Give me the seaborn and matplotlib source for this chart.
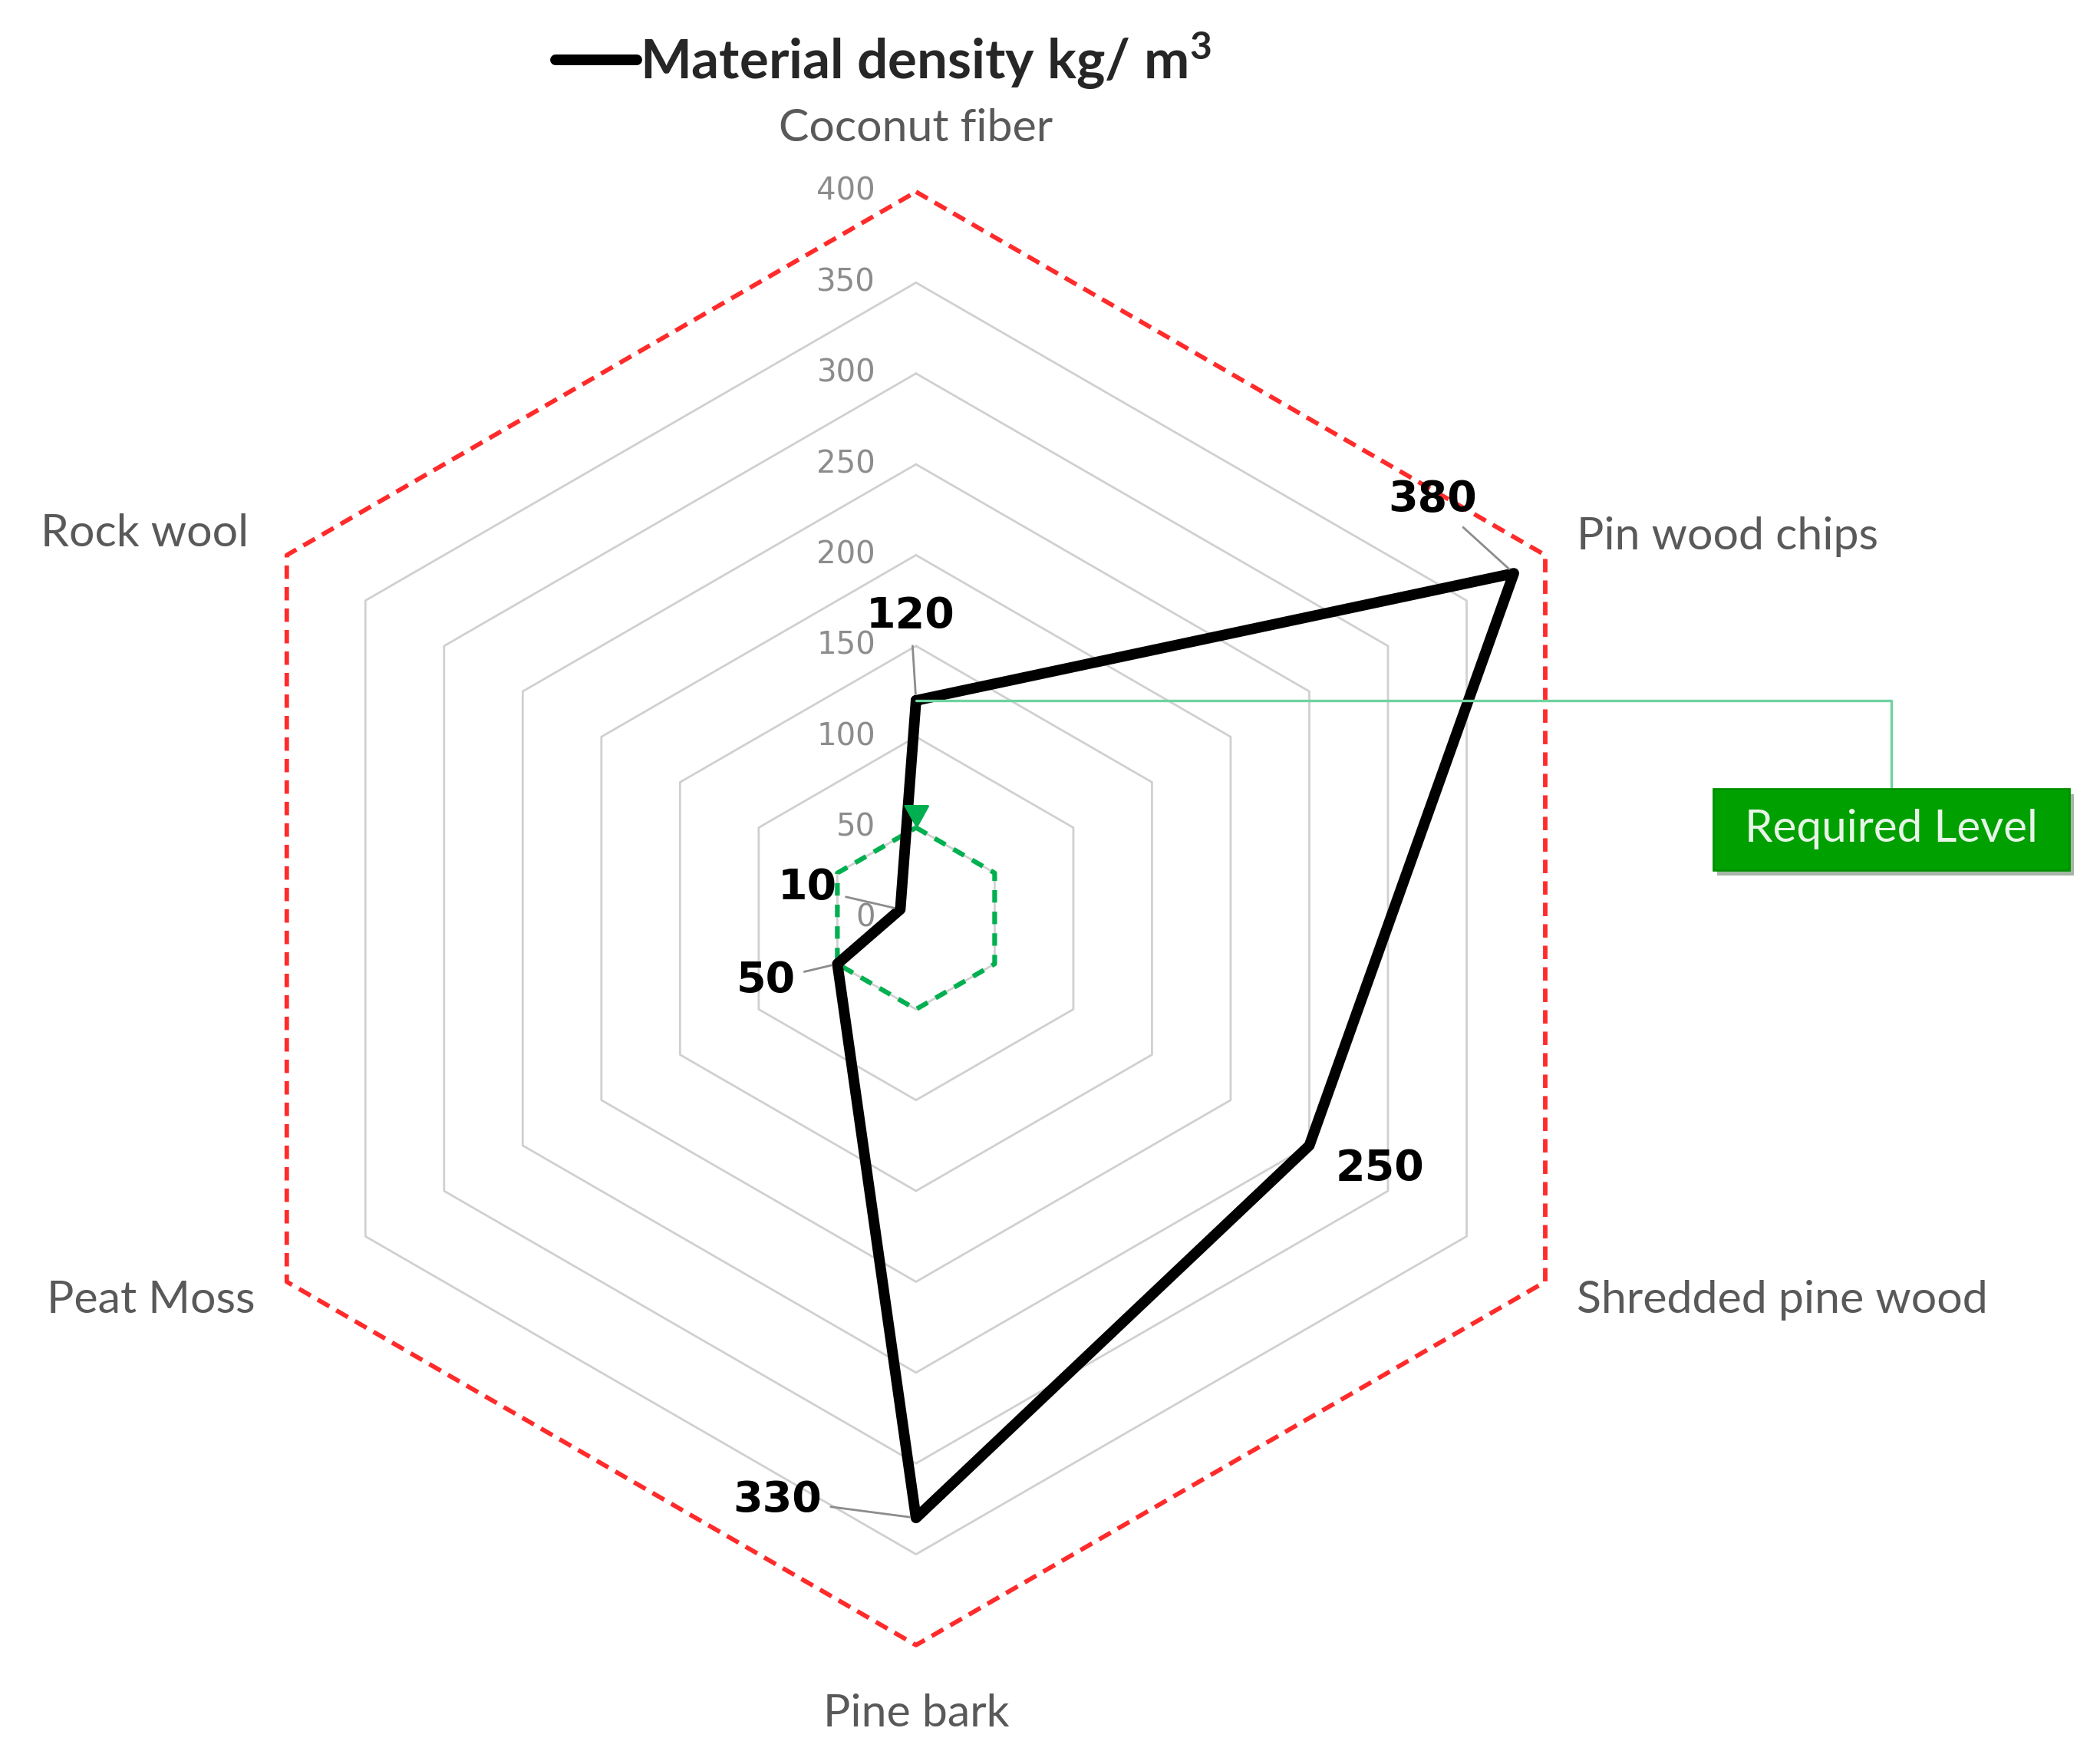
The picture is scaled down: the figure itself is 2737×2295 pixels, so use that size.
import numpy as np
import pandas as pd
import matplotlib.pyplot as plt
import matplotlib.patheffects as pe
import seaborn as sns

# Data
categories = ['Coconut fiber', 'Pin wood chips', 'Shredded pine wood', 'Pine bark', 'Peat Moss', 'Rock wool']
density = [120, 380, 250, 330, 50, 10]
required_level = [50, 50, 50, 50, 50, 50]
outer_level = [400, 400, 400, 400, 400, 400]
grid_levels = [50, 100, 150, 200, 250, 300, 350]
tick_values = [0, 50, 100, 150, 200, 250, 300, 350, 400]

sns.set_theme(style='white')
plt.rcParams['font.family'] = ['Lato', 'DejaVu Sans']

angles = np.linspace(0, 2 * np.pi, len(categories), endpoint=False)
closed = np.append(angles, angles[0])

def close(vals):
    return list(vals) + [vals[0]]

df = pd.DataFrame({'theta': closed, 'density': close(density)})

fig = plt.figure(figsize=(27.37, 22.95), dpi=100)
ax = fig.add_axes([0.0902, 0.0658, 0.692, 0.8253], projection='polar')
ax.set_theta_offset(np.pi / 2)
ax.set_theta_direction(-1)
ax.set_ylim(0, 400)
ax.grid(False)
ax.spines['polar'].set_visible(False)
ax.set_xticks([])
ax.set_yticks([])
ax.patch.set_alpha(0)

# hexagonal grid
for lvl in grid_levels:
    ax.plot(closed, close([lvl] * len(categories)), color='#d0d0d0', lw=2.0, zorder=1)
ax.plot(closed, close(outer_level), color='#ff2b2b', lw=4.2, ls=(0, (3, 1.8)), clip_on=False, zorder=2)
ax.plot(closed, close(required_level), color='#00b050', lw=4.5, ls=(0, (2.6, 1.9)), zorder=3)
ax.plot([angles[0]], [required_level[0]], ls='none', marker=[(-1.1, 2), (1.1, 2), (0, 0)],
        ms=42, color='#00b050', zorder=6)

sns.lineplot(data=df, x='theta', y='density', sort=False, estimator=None, ax=ax,
             color='black', lw=10, label=r'Material density kg/ $\mathregular{m^3}$', zorder=5)
ax.set_xlabel('')
ax.set_ylabel('')

# radial tick labels
for v in tick_values:
    ax.annotate(str(v), xy=(0, v), xytext=(-38, 0), textcoords='offset points',
                ha='right', va='center', color='#8c8c8c', fontsize=29, family='DejaVu Sans')

# category labels
cat_pos = [(435, 'center', 'center'), (420, 'left', 'center'), (420, 'left', 'center'),
           (438, 'center', 'center'), (420, 'right', 'center'), (424, 'right', 'center')]
for ang, name, (r, ha, va) in zip(angles, categories, cat_pos):
    ax.text(ang, r, name, ha=ha, va=va, fontsize=42.5, color='#595959')

# data labels
offsets = [(-5, 79), (-76, 69), (66, -22), (-130, 17), (-67, -16), (-87, 20)]
leaders = [True, True, False, True, True, True]
for ang, v, off, lead in zip(angles, density, offsets, leaders):
    props = dict(arrowstyle='-', color='#8c8c8c', lw=2.0, shrinkA=6, shrinkB=6) if lead else None
    ax.annotate(str(v), xy=(ang, v), xytext=off, textcoords='offset points',
                ha='center', va='center', fontsize=40, fontweight='bold', family='DejaVu Sans',
                color='black', arrowprops=props, zorder=7)

# Required level callout
ann = ax.annotate(' Required Level ', xy=(angles[0], density[0]), xycoords='data',
                  xytext=(0.9006, 0.529), textcoords='figure fraction',
                  ha='center', va='center', color='#e6f5e6', fontsize=42,
                  bbox=dict(boxstyle='square,pad=0.45', fc='#00a000', ec='#009000', lw=2),
                  arrowprops=dict(arrowstyle='-', color='#6fd3a0', lw=2.4,
                                  connectionstyle='angle,angleA=90,angleB=0,rad=0',
                                  shrinkA=0, shrinkB=0), zorder=8)
ann.get_bbox_patch().set_path_effects([pe.SimplePatchShadow(offset=(4, -5), alpha=0.35), pe.Normal()])

ax.legend(loc='center left', bbox_to_anchor=(0.2645, 0.9656), bbox_transform=fig.transFigure,
          frameon=False, handlelength=1.5, handletextpad=0.05, borderaxespad=0, borderpad=0,
          prop=dict(family='Lato', weight='bold', size=51))

fig.savefig('out.png', dpi=100)
